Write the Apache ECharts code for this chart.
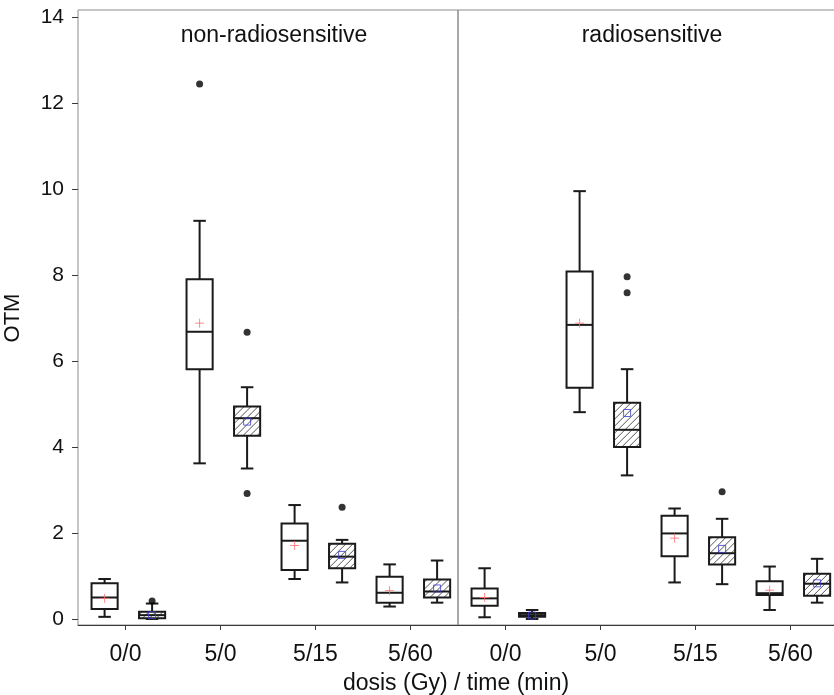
<!DOCTYPE html>
<html>
<head>
<meta charset="utf-8">
<script src="https://cdn.jsdelivr.net/npm/echarts@6/dist/echarts.min.js"></script>
<style>
html,body{margin:0;padding:0;background:#fff;}
#chart{width:834px;height:695px;}
</style>
</head>
<body>
<div id="chart"></div>
<script>
// ---- data ----
var categories = ['0/0', '5/0', '5/15', '5/60'];
var panelTitles = ['non-radiosensitive', 'radiosensitive'];
// box positions: 0..7, even = open box, odd = hatched box
var hatchedFlags = [0, 1, 0, 1, 0, 1, 0, 1];
// [min, Q1, median, Q3, max]
var nonRadioStats = [
  [0.05, 0.23, 0.50, 0.83, 0.93],
  [0.00, 0.02, 0.09, 0.17, 0.36],
  [3.62, 5.81, 6.68, 7.90, 9.26],
  [3.50, 4.26, 4.67, 4.94, 5.39],
  [0.93, 1.14, 1.82, 2.22, 2.65],
  [0.85, 1.18, 1.45, 1.75, 1.84],
  [0.29, 0.38, 0.61, 0.98, 1.27],
  [0.38, 0.50, 0.64, 0.92, 1.36]
];
var nonRadioMeans = [0.48, 0.09, 6.88, 4.59, 1.71, 1.49, 0.66, 0.71];
var nonRadioOutliers = [[1, 0.42], [2, 12.44], [3, 6.67], [3, 2.92], [5, 2.60]];

var radioStats = [
  [0.04, 0.31, 0.48, 0.71, 1.18],
  [0.00, 0.05, 0.09, 0.14, 0.21],
  [4.81, 5.38, 6.84, 8.08, 9.95],
  [3.34, 4.00, 4.40, 5.03, 5.81],
  [0.85, 1.46, 1.99, 2.40, 2.57],
  [0.81, 1.27, 1.53, 1.90, 2.33],
  [0.21, 0.56, 0.60, 0.88, 1.22],
  [0.38, 0.54, 0.82, 1.05, 1.40]
];
var radioMeans = [0.50, 0.08, 6.88, 4.79, 1.88, 1.63, 0.67, 0.83];
var radioOutliers = [[3, 7.96], [3, 7.59], [5, 2.96]];

var yTickMin = 0, yTickMax = 14, yTickStep = 2;

// ---- helpers ----
function boxData(stats) {
  return stats.map(function (s, i) { return [i].concat(s).concat([hatchedFlags[i]]); });
}
function meanData(means, flag) {
  var out = [];
  means.forEach(function (m, i) { if (hatchedFlags[i] === flag) out.push([i, m]); });
  return out;
}

function renderBox(params, api) {
  var x = api.value(0);
  var lo = api.value(1), q1 = api.value(2), med = api.value(3), q3 = api.value(4), hi = api.value(5);
  var hatched = api.value(6);
  var c = api.coord([x, med]);
  var cx = c[0], yMed = c[1];
  var yLo = api.coord([x, lo])[1], yQ1 = api.coord([x, q1])[1];
  var yQ3 = api.coord([x, q3])[1], yHi = api.coord([x, hi])[1];
  var unit = api.size([1, 0])[0];
  var halfW = unit * 0.275;
  var capHalf = halfW * 0.48;
  var ls = { stroke: '#1a1a1a', lineWidth: 2 };
  var children = [];
  children.push({ type: 'line', shape: { x1: cx, y1: yQ3, x2: cx, y2: yHi }, style: ls });
  children.push({ type: 'line', shape: { x1: cx, y1: yQ1, x2: cx, y2: yLo }, style: ls });
  children.push({ type: 'line', shape: { x1: cx - capHalf, y1: yHi, x2: cx + capHalf, y2: yHi }, style: ls });
  children.push({ type: 'line', shape: { x1: cx - capHalf, y1: yLo, x2: cx + capHalf, y2: yLo }, style: ls });
  var L = cx - halfW, R = cx + halfW, T = yQ3, B = yQ1;
  children.push({ type: 'rect', shape: { x: L, y: T, width: R - L, height: B - T }, style: { fill: '#fff', stroke: null } });
  if (hatched) {
    var step = 7;
    for (var k = L + T + 3; k < R + B; k += step) {
      var xs = Math.max(L, k - B), xe = Math.min(R, k - T);
      if (xe > xs) {
        children.push({ type: 'line', shape: { x1: xs, y1: k - xs, x2: xe, y2: k - xe }, style: { stroke: '#555', lineWidth: 1 } });
      }
    }
  }
  children.push({ type: 'rect', shape: { x: L, y: T, width: R - L, height: B - T }, style: { fill: 'none', stroke: '#1a1a1a', lineWidth: 2 } });
  children.push({ type: 'line', shape: { x1: L, y1: yMed, x2: R, y2: yMed }, style: ls });
  return { type: 'group', children: children };
}

var font = 'Liberation Sans, Arial, sans-serif';

function frameXAxis(gi) {
  return {
    gridIndex: gi, type: 'category', data: categories, position: 'bottom',
    boundaryGap: true,
    axisLine: { show: true, onZero: false, lineStyle: { color: '#3a3a3a', width: 1 } },
    axisTick: { show: true, alignWithLabel: true, length: 5, lineStyle: { color: '#3a3a3a' } },
    axisLabel: { fontSize: 23, color: '#111', fontFamily: font, margin: 18 },
    splitLine: { show: false }
  };
}
function hiddenX(gi) {
  return { gridIndex: gi, type: 'value', min: -0.56, max: 7.44, show: false };
}
function gridDef(left, top, height, framed) {
  var g = { left: left, top: top, width: 380, height: height, outerBoundsMode: 'none', containLabel: false };
  if (framed) { g.show = true; g.borderColor = '#8c8c8c'; g.borderWidth = 1; g.backgroundColor = 'transparent'; }
  return g;
}

var option = {
  animation: false,
  backgroundColor: '#fff',
  title: [
    { text: panelTitles[0], left: 274, top: 24, textAlign: 'center', padding: 0,
      textStyle: { fontSize: 23, fontWeight: 'normal', color: '#111', fontFamily: font } },
    { text: panelTitles[1], left: 652, top: 24, textAlign: 'center', padding: 0,
      textStyle: { fontSize: 23, fontWeight: 'normal', color: '#111', fontFamily: font } },
    { text: 'dosis (Gy) / time (min)', left: 456, top: 672, textAlign: 'center', padding: 0,
      textStyle: { fontSize: 23, fontWeight: 'normal', color: '#111', fontFamily: font } }
  ],
  grid: [
    gridDef(78, 10, 615, true),
    gridDef(458, 10, 615, true),
    gridDef(78, 17, 602, false),
    gridDef(458, 17, 602, false)
  ],
  xAxis: [frameXAxis(0), frameXAxis(1), hiddenX(2), hiddenX(3)],
  yAxis: [
    { gridIndex: 0, type: 'value', min: -0.14, max: 14.16, show: false },
    { gridIndex: 1, type: 'value', min: -0.14, max: 14.16, show: false },
    { gridIndex: 2, type: 'value', min: yTickMin, max: yTickMax, interval: yTickStep,
      axisLine: { show: false, onZero: false },
      axisTick: { show: true, length: 6, lineStyle: { color: '#3a3a3a' } },
      axisLabel: { fontSize: 21, color: '#111', fontFamily: font, margin: 14 },
      splitLine: { show: false },
      name: 'OTM', nameLocation: 'middle', nameGap: 54, nameRotate: 90,
      nameTextStyle: { fontSize: 22, color: '#111', fontFamily: font } },
    { gridIndex: 3, type: 'value', min: yTickMin, max: yTickMax, show: false }
  ],
  series: [
    { type: 'custom', xAxisIndex: 2, yAxisIndex: 2, renderItem: renderBox, data: boxData(nonRadioStats), z: 2 },
    { type: 'custom', xAxisIndex: 3, yAxisIndex: 3, renderItem: renderBox, data: boxData(radioStats), z: 2 },
    { type: 'scatter', xAxisIndex: 2, yAxisIndex: 2, data: meanData(nonRadioMeans, 0), z: 5,
      symbol: 'path://M0,5L10,5M5,0L5,10', symbolSize: 9,
      itemStyle: { color: 'transparent', borderColor: '#ff6f6f', borderWidth: 1 } },
    { type: 'scatter', xAxisIndex: 2, yAxisIndex: 2, data: meanData(nonRadioMeans, 1), z: 5,
      symbol: 'rect', symbolSize: 7,
      itemStyle: { color: 'transparent', borderColor: '#3b3bd0', borderWidth: 1 } },
    { type: 'scatter', xAxisIndex: 2, yAxisIndex: 2, data: nonRadioOutliers, z: 5,
      symbol: 'circle', symbolSize: 7, itemStyle: { color: '#000' } },
    { type: 'scatter', xAxisIndex: 3, yAxisIndex: 3, data: meanData(radioMeans, 0), z: 5,
      symbol: 'path://M0,5L10,5M5,0L5,10', symbolSize: 9,
      itemStyle: { color: 'transparent', borderColor: '#ff6f6f', borderWidth: 1 } },
    { type: 'scatter', xAxisIndex: 3, yAxisIndex: 3, data: meanData(radioMeans, 1), z: 5,
      symbol: 'rect', symbolSize: 7,
      itemStyle: { color: 'transparent', borderColor: '#3b3bd0', borderWidth: 1 } },
    { type: 'scatter', xAxisIndex: 3, yAxisIndex: 3, data: radioOutliers, z: 5,
      symbol: 'circle', symbolSize: 7, itemStyle: { color: '#000' } }
  ]
};

var chart = echarts.init(document.getElementById('chart'), null, { renderer: 'canvas' });
chart.setOption(option);
</script>
</body>
</html>
